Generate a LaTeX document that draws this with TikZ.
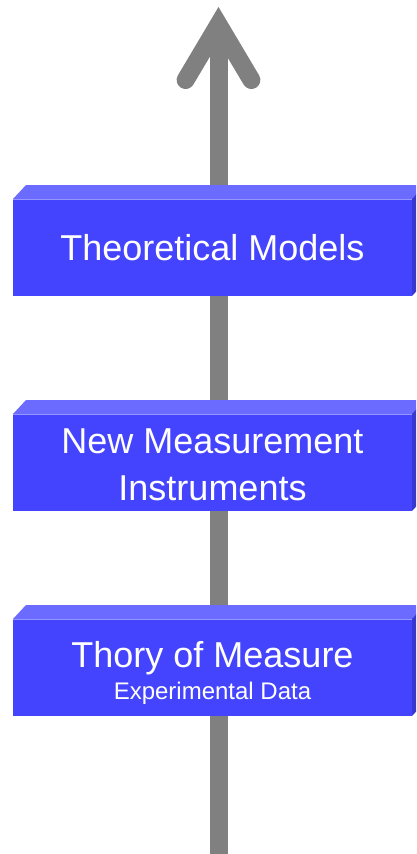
\documentclass[tikz,border=0pt]{standalone}
\usepackage{fontspec}
\setmainfont{Liberation Sans}
\definecolor{frontc}{RGB}{68,68,255}
\definecolor{topc}{RGB}{107,107,255}
\definecolor{sidec}{RGB}{56,56,206}
\definecolor{hlc}{RGB}{150,150,255}
\definecolor{arrowgray}{RGB}{128,128,128}
\begin{document}
\begin{tikzpicture}[x=1pt,y=-1pt,
  face/.style={fill=frontc, draw=none, minimum width=399pt, minimum height=97pt, inner sep=0pt, anchor=north west},
  bigtxt/.style={text=white, font=\fontsize{36}{43}\selectfont, anchor=base, inner sep=0pt},
  smalltxt/.style={text=white, font=\fontsize{24}{29}\selectfont, anchor=base, inner sep=0pt},
  topface/.style={fill=topc, draw=none},
  sideface/.style={fill=sidec, draw=none},
  hiline/.style={draw=hlc, line width=1pt},
  shaft/.style={draw=arrowgray, line width=18pt, line cap=butt},
  head/.style={draw=arrowgray, line width=18pt, line cap=round, line join=miter}]
\useasboundingbox (0,0) rectangle (416,854);
\clip (0,0) rectangle (416,854);
% arrow
\coordinate (bot) at (218.5,854);
\coordinate (tip) at (218.5,24.6);
\coordinate (wl) at (185.6,80);
\coordinate (wr) at (251.4,80);
\draw[shaft] (bot) -- (tip);
\draw[head] (wl) -- (tip) -- (wr);
% boxes
\foreach \name/\ty in {m1/199, m2/414, m3/619} {
  \fill[topface] (13,\ty) -- (26,\ty-14) -- (428,\ty-14) -- (412,\ty) -- cycle;
  \fill[sideface] (412,\ty) -- (425,\ty-14) -- (425,\ty+83) -- (412,\ty+97) -- cycle;
  \node[face] (\name) at (13,\ty) {};
  \draw[hiline] (13,\ty+0.5) -- (412,\ty+0.5);
}
% texts
\node[bigtxt] (t1) at (212.5,260) {Theoretical Models};
\node[bigtxt] (t2a) at (212.5,453) {New Measurement};
\node[bigtxt] (t2b) at (212.5,500) {Instruments};
\node[bigtxt] (t3a) at (212.5,667) {Thory of Measure};
\node[smalltxt] (t3b) at (212.5,699) {Experimental Data};
\end{tikzpicture}
\end{document}
